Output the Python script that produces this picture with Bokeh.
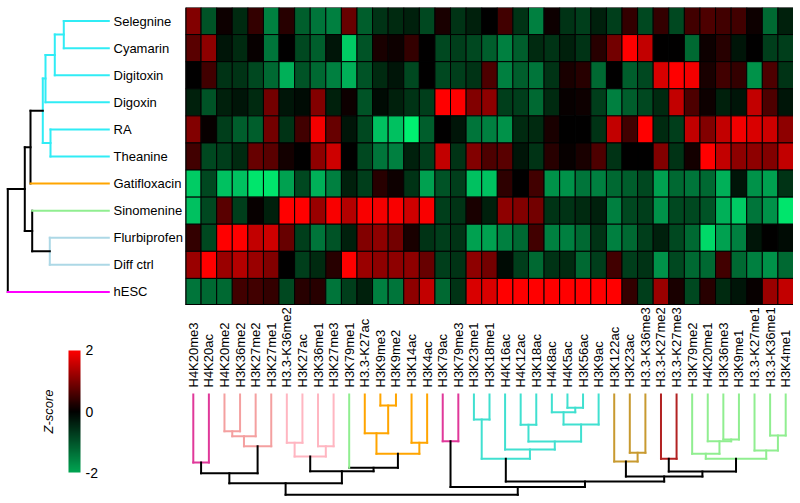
import numpy as np
from bokeh.plotting import figure
from bokeh.models import Range1d, LinearColorMapper, ColumnDataSource, Span
from bokeh.layouts import row, column
from bokeh.embed import file_html
from bokeh.resources import INLINE
from bokeh.core.properties import value

# ---------------- data ----------------
samples = ["Selegnine", "Cyamarin", "Digitoxin", "Digoxin", "RA", "Theanine",
           "Gatifloxacin", "Sinomenine", "Flurbiprofen", "Diff ctrl", "hESC"]

marks = ["H4K20me3", "H4K20ac", "H4K20me2", "H3K36me2", "H3K27me2", "H3K27me1",
         "H3.3-K36me2", "H3K27ac", "H3K36me1", "H3K27me3", "H3K79me1", "H3.3-K27ac",
         "H3K9me3", "H3K9me2", "H3K14ac", "H3K4ac", "H3K79ac", "H3K79me3", "H3K23me1",
         "H3K18me1", "H4K16ac", "H4K12ac", "H3K18ac", "H4K8ac", "H4K5ac", "H3K56ac",
         "H3K9ac", "H3K122ac", "H3K23ac", "H3.3-K36me3", "H3.3-K27me2", "H3.3-K27me3",
         "H3K79me2", "H4K20me1", "H3K36me3", "H3K9me1", "H3.3-K27me1", "H3.3-K36me1",
         "H3K4me1"]

z_selegnine = [1.0, -0.8, 0.1, -0.4, 0.4, -1.2, 0.3, -0.9, -1.1, -1.2, 0.8, -0.9, -0.5,
               -0.4, -0.3, -0.7, 0.2, -0.5, -0.3, 0.0, 0.5, -0.5, -1.2, 0.1, -0.5, -0.6,
               -0.3, -0.6, 0.4, -0.7, 0.4, -0.7, 0.5, 0.6, 0.5, 0.5, 0.1, -1.0, -0.3]
z_cyamarin = [0.7, 1.1, -0.2, -0.4, 0.05, -1.1, 0.0, -0.7, -0.9, -0.2, -1.7, -0.8, 0.2,
              0.1, 0.4, 0.0, -0.7, -0.6, -0.7, -0.9, -1.2, -0.9, -0.4, -0.5, -0.3, -0.5,
              0.3, 0.9, 2.0, 1.5, 0.0, 0.0, -1.0, 0.1, 0.3, -0.2, 0.0, -0.6, -0.6]
z_digitoxin = [0.0, 0.5, -0.5, -0.5, -0.7, -1.0, -1.5, -0.8, -1.0, -1.2, -1.5, -0.8, -0.4,
               -0.2, -0.7, 0.0, -0.7, -0.6, -0.5, 0.6, -1.2, -0.9, -1.1, -0.5, 0.2, 0.3,
               -1.0, 0.0, -0.9, -0.7, 1.7, 2.0, 1.9, 0.2, 0.5, 0.4, -1.3, 0.6, -0.5]
z_digoxin = [-0.3, -0.8, -0.3, -0.2, -0.4, 0.9, -0.2, -0.1, 1.0, -0.3, 0.1, -0.8, -0.1,
             -0.3, -0.5, -0.6, 2.0, 2.0, 1.0, 1.1, -0.6, -0.6, -1.0, -0.4, 0.05, 0.1,
             -0.6, -1.2, -0.9, -0.7, -0.4, 1.5, 0.6, 0.1, -0.3, -0.2, 1.5, 0.6, -0.2]
z_ra = [1.0, 0.05, -0.6, -0.9, -0.9, 0.9, -0.5, 0.5, 1.9, 0.8, -0.2, -0.7, -1.6,
        -1.6, -2.0, -0.9, 0.0, -0.2, -1.1, -1.2, -1.3, -0.4, -0.4, 0.2, 0.0, 0.0,
        -0.5, 1.5, 0.5, 2.0, -0.4, -0.6, 1.5, 1.0, 1.5, 1.9, 1.7, 1.6, 1.1]
z_theanine = [0.5, -0.7, -0.6, -0.4, 0.8, 0.7, 0.15, 0.0, 1.1, 1.6, 0.0, -0.7, -1.1,
              -1.2, -0.3, -0.6, 1.5, -0.5, 1.0, 0.6, 0.7, -0.2, -0.5, 0.3, 0.05, 0.2,
              0.6, -0.5, 0.0, 0.0, 1.0, -0.5, 0.15, 2.0, 1.5, 1.1, 1.1, 1.0, 1.5]
z_gatifloxacin = [-1.7, -0.7, -1.6, -1.6, -1.9, -1.9, -1.4, -0.7, -1.5, -1.2, -0.3, -0.6, 0.3,
                  0.1, -0.5, -1.4, -0.8, -0.6, -1.6, -1.6, 0.35, 0.0, 0.5, -1.3, -1.3, -1.1,
                  -1.2, -1.0, -0.9, -0.7, -1.4, -1.0, -1.1, -1.0, -1.5, -0.2, -1.3, -1.4, -0.5]
z_sinomenine = [-1.6, -0.7, 0.7, -0.6, 0.05, -0.3, 2.0, 2.0, 1.2, 1.95, 1.4, 1.95, 1.9,
                1.95, 1.6, 1.95, -0.6, -0.5, 0.2, -0.3, 1.1, 1.0, 0.9, -0.5, -0.5, -0.4,
                -0.3, -1.2, -0.7, -0.6, -1.3, -0.7, -0.7, -0.8, -1.5, -1.7, -1.1, -1.3, -1.9]
z_flurbiprofen = [0.4, -0.7, 2.0, 2.0, 1.5, 1.6, 0.8, -0.6, -1.1, -0.8, -0.3, 1.0, 1.1,
                  0.9, 0.2, -0.5, -0.6, -0.5, -1.4, -1.4, -1.2, -1.0, 0.5, -1.2, -1.2, -1.0,
                  -0.5, -1.2, -1.0, -0.6, -0.3, -0.7, -1.0, -1.8, -1.4, -1.2, -0.2, 0.0, -0.1]
z_diffctrl = [1.2, 2.0, 1.2, 1.4, 1.2, 1.0, 0.0, -0.6, -0.4, 0.3, 2.0, 1.2, 1.1,
              1.1, 1.1, 0.8, -0.6, -0.5, 1.1, 0.9, -0.1, -0.6, -1.0, -0.5, -0.4, -1.0,
              -0.6, 0.5, -0.6, -0.5, -1.3, -0.7, -1.0, -1.0, 0.5, -1.0, -1.2, -1.3, -1.0]
z_hesc = [-1.1, -1.0, -1.0, 0.5, 0.5, 0.4, -0.7, 0.3, 0.3, -1.1, -0.6, -0.3, -1.2,
          -1.1, 1.1, 1.5, -1.0, -0.5, 1.7, 1.7, 2.0, 2.0, 2.0, 2.0, 2.0, 2.0,
          2.0, 2.0, 0.4, -0.6, 1.2, 0.2, -0.7, 0.3, -0.4, -0.2, 0.05, 1.2, 1.5]

z_rows = [z_selegnine, z_cyamarin, z_digitoxin, z_digoxin, z_ra, z_theanine,
          z_gatifloxacin, z_sinomenine, z_flurbiprofen, z_diffctrl, z_hesc]

# row dendrogram: (child a, child b, height); leaves 0..10, merges numbered from 11
row_merges = [(0, 1, 4.5), (11, 2, 5.4), (4, 5, 5.83), (12, 3, 6.33), (14, 13, 6.6),
              (15, 6, 7.83), (8, 9, 5.9), (7, 17, 7.66), (16, 18, 8.4), (19, 10, 10.1)]
CYAN, ORANGE, LGREEN, LBLUE, MAGENTA = "#30ECF5", "#FFA500", "#90EE90", "#ADD8E6", "#FF00FF"
row_merge_colors = [CYAN, CYAN, CYAN, CYAN, CYAN, "black", LBLUE, "black", "black", "black"]
row_leaf_colors = [CYAN] * 6 + [ORANGE, LGREEN, LBLUE, LBLUE, MAGENTA]

# column dendrogram: leaves 0..38, merges numbered from 39
col_merges = [(0, 1, 6.8), (2, 3, 3.67), (40, 4, 4.17), (41, 5, 5.17),
              (6, 7, 4.83), (8, 9, 5.17), (43, 44, 6.2),
              (12, 13, 1.1), (11, 46, 3.87), (14, 15, 4.83), (47, 48, 5.93),
              (10, 49, 7.33), (45, 50, 7.67), (39, 42, 7.87), (52, 51, 8.87),
              (16, 17, 4.67),
              (18, 19, 2.5), (21, 22, 3.03), (24, 25, 1.33), (23, 57, 1.77), (58, 26, 3.0),
              (56, 59, 4.7), (20, 60, 5.5), (55, 61, 6.43),
              (28, 29, 5.83), (27, 63, 6.7),
              (30, 31, 6.43),
              (34, 35, 4.5), (33, 66, 4.67), (32, 67, 5.93), (37, 38, 4.1), (36, 69, 5.6),
              (68, 70, 6.43),
              (65, 71, 7.7), (64, 72, 8.2), (62, 73, 8.7), (54, 74, 9.25), (53, 75, 10.03)]
DPINK, SALMON, PINK, TURQ, GOLD, FIRE = "#E0389A", "#F4A0A0", "#FFB6C1", "#40E0D0", "#C89A30", "#B22222"
col_merge_colors = ([DPINK] + [SALMON] * 3 + [PINK] * 3 + [ORANGE] * 4 + ["black"] * 4
                    + [DPINK] + [TURQ] * 8 + [GOLD] * 2 + [FIRE] + [LGREEN] * 6 + ["black"] * 5)
col_leaf_colors = ([DPINK] * 2 + [SALMON] * 4 + [PINK] * 4 + [LGREEN] + [ORANGE] * 5
                   + [DPINK] * 2 + [TURQ] * 9 + [GOLD] * 3 + [FIRE] * 2 + [LGREEN] * 7)

# colour bar ticks
cb_ticks = [-2, 0, 2]
cb_tick_labels = ["-2", "0", "2"]
cb_title = "Z-score"

FONT = "Liberation Sans"
NR, NC = len(samples), len(marks)


def palette_from(anchors, n=256):
    av = [a for a, _ in anchors]
    rgb = np.array([[int(h[1:3], 16), int(h[3:5], 16), int(h[5:7], 16)] for _, h in anchors], float)
    vals = np.linspace(av[0], av[-1], n)
    out = []
    for v in vals:
        r, g, b = (int(round(np.interp(v, av, rgb[:, k]))) for k in range(3))
        out.append("#%02x%02x%02x" % (r, g, b))
    return out


hm_palette = palette_from([(-2.0, "#00F070"), (-1.6, "#00C060"), (-1.2, "#008040"),
                           (-0.8, "#005225"), (-0.4, "#002A10"), (0.0, "#000000"),
                           (0.5, "#400000"), (1.0, "#800000"), (1.5, "#C00000"),
                           (2.0, "#FF0000")])
cb_palette = palette_from([(-2.0, "#00A552"), (0.0, "#000000"), (2.0, "#FF0000")])
hm_mapper = LinearColorMapper(palette=hm_palette, low=-2, high=2)
cb_mapper = LinearColorMapper(palette=cb_palette, low=-2, high=2)


def dendro(leaf_pos, merges, merge_colors, leaf_colors):
    n = len(leaf_pos)
    pos = list(leaf_pos)
    hgt = [0.0] * n
    p0, h0, p1, h1, cols = [], [], [], [], []
    for (a, b, h), c in zip(merges, merge_colors):
        p0.append(pos[a]); h0.append(h); p1.append(pos[b]); h1.append(h); cols.append(c)
        for ch in (a, b):
            p0.append(pos[ch]); h0.append(hgt[ch]); p1.append(pos[ch]); h1.append(h)
            cols.append(leaf_colors[ch] if ch < n else c)
        pos.append((pos[a] + pos[b]) / 2.0)
        hgt.append(h)
    return p0, h0, p1, h1, cols


def panel(w, h, xr, yr, top=0):
    p = figure(width=w, height=h, x_range=xr, y_range=yr, output_backend="svg",
               toolbar_location=None, x_axis_location=None, y_axis_location=None,
               min_border=0, min_border_top=top)
    p.grid.visible = False
    p.outline_line_color = None
    p.background_fill_color = "white"
    p.border_fill_color = "white"
    return p


LEFT_W, HM_W = 185, 608
TOP_H, BOT_H, TOP_PAD = 305, 198, 7

# ---------------- heatmap ----------------
x_rng = Range1d(0, NC)
y_rng = Range1d(0, NR)
xs, ys, zs = [], [], []
for i, vals in enumerate(z_rows):
    for j, v in enumerate(vals):
        xs.append(j + 0.5); ys.append(NR - i - 0.5); zs.append(v)
hm_src = ColumnDataSource(dict(x=xs, y=ys, z=zs))

hm = panel(HM_W, TOP_H, x_rng, y_rng, top=TOP_PAD)
hm.rect(x="x", y="y", width=1, height=1, source=hm_src,
        fill_color={"field": "z", "transform": hm_mapper}, line_color="black", line_width=1)
hm.add_layout(Span(location=0, dimension="width", line_color="black", line_width=3))
hm.add_layout(Span(location=0, dimension="height", line_color="black", line_width=2))

# ---------------- row dendrogram ----------------
rd = panel(LEFT_W, TOP_H, Range1d(10.83, -7.67), y_rng, top=TOP_PAD)
rp0, rh0, rp1, rh1, rcols = dendro([NR - i - 0.5 for i in range(NR)], row_merges,
                                   row_merge_colors, row_leaf_colors)
rd.segment(x0=rh0, y0=rp0, x1=rh1, y1=rp1, line_color=rcols, line_width=2, line_cap="square")
LABEL_GAP = -0.47
rd.text(x=[LABEL_GAP] * NR, y=[NR - i - 0.5 for i in range(NR)], text=samples,
        text_font=value(FONT), text_font_size="13px", text_color="black",
        text_align="left", text_baseline="middle")

# ---------------- column dendrogram + labels ----------------
cd = panel(HM_W, BOT_H, x_rng, Range1d(10.9, -8.9))
cp0, ch0, cp1, ch1, ccols = dendro([j + 0.5 for j in range(NC)], col_merges,
                                   col_merge_colors, col_leaf_colors)
cd.segment(x0=cp0, y0=ch0, x1=cp1, y1=ch1, line_color=ccols, line_width=2, line_cap="square")
COL_LABEL_Y = -0.7
cd.text(x=[j + 0.5 for j in range(NC)], y=[COL_LABEL_Y] * NC, text=marks, angle=np.pi / 2,
        text_font=value(FONT), text_font_size="13px", text_color="black",
        text_align="left", text_baseline="middle")

# ---------------- color bar (pixel-like x units, value y units) ----------------
cb = panel(LEFT_W, BOT_H, Range1d(0, LEFT_W), Range1d(-3.016, 3.475))
BAR_X, BAR_W = 68, 12
grad = np.linspace(-2, 2, 256).reshape(256, 1)
cb.image(image=[grad], x=BAR_X, y=-2, dw=BAR_W, dh=4, color_mapper=cb_mapper)
cb.text(x=[BAR_X + BAR_W + 5] * len(cb_ticks), y=cb_ticks, text=cb_tick_labels,
        text_font=value(FONT), text_font_size="14px", text_color="black",
        text_align="left", text_baseline="middle")
cb.text(x=[BAR_X - 20], y=[0], text=[cb_title], angle=np.pi / 2,
        text_font=value(FONT), text_font_size="13px", text_font_style="italic",
        text_color="black", text_align="center", text_baseline="middle")

layout = row(column(rd, cb), column(hm, cd))
open("out.html", "w").write(file_html(layout, INLINE))
